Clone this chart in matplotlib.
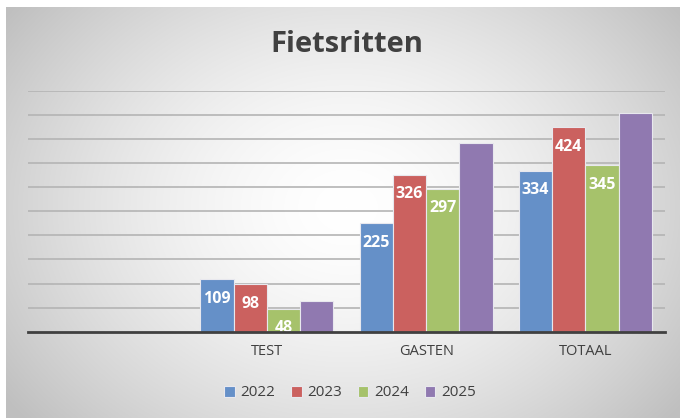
import numpy as np
import matplotlib.pyplot as plt

categories = ['', 'TEST', 'GASTEN', 'TOTAAL']
years = ['2022', '2023', '2024', '2025']
values_2022 = [None, 109, 225, 334]
values_2023 = [None, 98, 326, 424]
values_2024 = [None, 48, 297, 345]
values_2025 = [None, 63, 391, 454]
show_labels = [True, True, True, False]

colors = ['#6590c8', '#cb615f', '#a6c26b', '#9079b0']
text_color = '#404040'
font = 'Open Sans'

fig = plt.figure(figsize=(6.8, 4.18), dpi=100)
fig.patch.set_facecolor('white')

# radial gradient background, like the Excel chart area
bg = fig.add_axes([6 / 680, 0, 1 - 6 / 680, 1 - 7 / 418], zorder=0)
h, w = 411, 674
yy, xx = np.mgrid[0:h, 0:w]
cx, cy = 340, 200
r = np.sqrt(((xx - cx) / 420.0) ** 2 + ((yy - cy) / 330.0) ** 2)
shade = 1 - 0.25 * np.clip(r, 0, 1) ** 1.6
bg.imshow(np.dstack([shade] * 3), aspect='auto', extent=[0, 1, 0, 1])
bg.axis('off')

ax = fig.add_axes([28 / 680, (418 - 331.7) / 418, 637 / 680, 241 / 418], zorder=1)
ax.patch.set_alpha(0)

all_values = [values_2022, values_2023, values_2024, values_2025]
x = np.arange(len(categories))
bw = 0.209
for i, (vals, yr) in enumerate(zip(all_values, years)):
    xs = [xi + (i - 1.5) * bw for xi, v in zip(x, vals) if v is not None]
    vs = [v for v in vals if v is not None]
    bars = ax.bar(xs, vs, width=bw, color=colors[i], edgecolor='#e8e8ee',
                  linewidth=0.8, label=yr, zorder=3)
    if show_labels[i]:
        for b, v in zip(bars, vs):
            ax.annotate(str(v), (b.get_x() + b.get_width() / 2, v),
                        xytext=(0, -14), textcoords='offset points',
                        ha='center', va='center', color='white',
                        fontsize=11.5, fontweight='bold', family=font, zorder=4)

ax.set_xlim(-0.5, 3.5)
ax.set_ylim(0, 500)
ax.set_yticks(np.arange(50, 501, 50))
ax.yaxis.grid(True, color='#b4b4b4', linewidth=1.2, zorder=0)
ax.tick_params(axis='y', length=0, labelleft=False)
ax.set_xticks(x)
ax.set_xticklabels(categories, fontsize=10.5, color=text_color, family=font)
ax.tick_params(axis='x', length=0, pad=9)
for s in ['top', 'right', 'left']:
    ax.spines[s].set_visible(False)
ax.spines['bottom'].set_color('#404040')
ax.spines['bottom'].set_linewidth(2)
ax.spines['bottom'].set_zorder(5)

fig.text(347 / 680, 1 - 45 / 418, 'Fietsritten', ha='center', va='center',
         fontsize=21, fontweight='bold', color=text_color, family=font)

leg = fig.legend(loc='center', bbox_to_anchor=(350 / 680, 1 - 393 / 418),
                 ncol=4, frameon=False, handlelength=0.7, handleheight=0.7,
                 handletextpad=0.4, columnspacing=1.0,
                 prop={'family': font, 'size': 11})
for t in leg.get_texts():
    t.set_color(text_color)

fig.savefig('out.png', dpi=100)
